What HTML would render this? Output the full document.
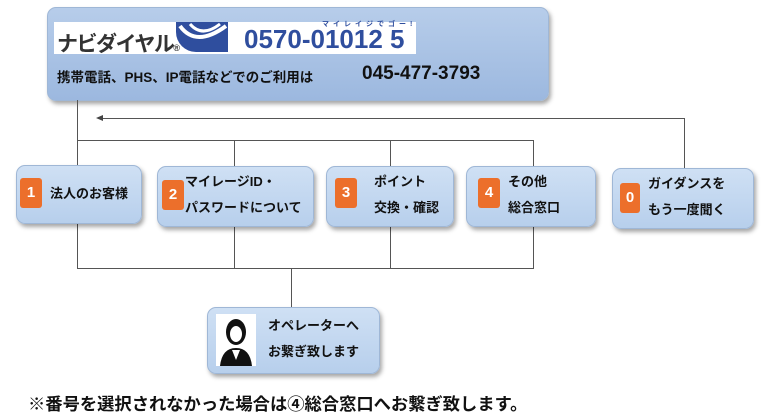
<!DOCTYPE html>
<html><head><meta charset="utf-8"><style>
body{margin:0;width:762px;height:418px;background:#fff;position:relative;overflow:hidden;font-family:"Liberation Sans","Noto Sans CJK JP",sans-serif;font-weight:bold;color:#111}
.b{position:absolute;background:linear-gradient(#cfe0f4,#b7cfec);border:1px solid #9fb7d6;border-radius:9px;box-shadow:2px 3px 4px rgba(0,0,0,.35)}
.n{position:absolute;width:22px;height:30px;background:#ec6f2b;color:#fff;font-size:15px;text-align:center;line-height:30px;border-radius:3px}
.t{position:absolute;font-size:13px;line-height:26px;white-space:nowrap}
.l{position:absolute;background:#555}
</style></head><body>
<div class="b" style="left:47px;top:7px;width:500px;height:92px;background:linear-gradient(#b7cdea,#9cb8df)"></div>
<div style="position:absolute;left:54px;top:22px;width:362px;height:32px;background:#fff"></div>
<div style="position:absolute;left:57px;top:28px;font-size:21px;color:#333;letter-spacing:-1.5px">ナビダイヤル<span style="font-size:9px">®</span></div>
<div style="position:absolute;left:176px;top:22px;width:52px;height:30px;background:#2f4e9e;border-radius:0 0 0 20px"></div>
<svg style="position:absolute;left:176px;top:22px" width="54" height="32"><path d="M4 4 Q20 26 50 4" stroke="#fff" stroke-width="4" fill="none"/><path d="M14 2 Q26 16 44 2" stroke="#fff" stroke-width="3" fill="none"/></svg>
<div style="position:absolute;left:244px;top:24px;font-size:26px;color:#2f4e9e">0570-01012 5</div>
<div style="position:absolute;left:322px;top:19px;font-size:7px;color:#2f4e9e;letter-spacing:4px">マイレイジでゴー!</div>
<div style="position:absolute;left:57px;top:66px;font-size:13.5px">携帯電話、PHS、IP電話などでのご利用は</div>
<div style="position:absolute;left:362px;top:63px;font-size:19px">045-477-3793</div>

<div class="l" style="left:77px;top:100px;width:1px;height:66px"></div>
<div class="l" style="left:100px;top:118px;width:585px;height:1px"></div>
<div style="position:absolute;left:96px;top:115px;width:0;height:0;border-right:7px solid #444;border-top:3px solid transparent;border-bottom:3px solid transparent"></div>
<div class="l" style="left:684px;top:118px;width:1px;height:50px"></div>
<div class="l" style="left:77px;top:140px;width:457px;height:1px"></div>
<div class="l" style="left:234px;top:140px;width:1px;height:26px"></div>
<div class="l" style="left:390px;top:140px;width:1px;height:26px"></div>
<div class="l" style="left:533px;top:140px;width:1px;height:26px"></div>
<div class="l" style="left:77px;top:222px;width:1px;height:46px"></div>
<div class="l" style="left:234px;top:225px;width:1px;height:43px"></div>
<div class="l" style="left:390px;top:225px;width:1px;height:43px"></div>
<div class="l" style="left:533px;top:225px;width:1px;height:43px"></div>
<div class="l" style="left:77px;top:268px;width:457px;height:1px"></div>
<div class="l" style="left:291px;top:268px;width:1px;height:40px"></div>

<div class="b" style="left:16px;top:165px;width:124px;height:57px"></div>
<div class="n" style="left:20px;top:178px">1</div><div class="t" style="left:50px;top:181px">法人のお客様</div>
<div class="b" style="left:157px;top:166px;width:155px;height:59px"></div>
<div class="n" style="left:162px;top:180px">2</div><div class="t" style="left:185px;top:169px">マイレージID・<br>パスワードについて</div>
<div class="b" style="left:326px;top:166px;width:126px;height:59px"></div>
<div class="n" style="left:335px;top:178px">3</div><div class="t" style="left:374px;top:169px">ポイント<br>交換・確認</div>
<div class="b" style="left:466px;top:166px;width:128px;height:59px"></div>
<div class="n" style="left:478px;top:178px">4</div><div class="t" style="left:508px;top:169px">その他<br>総合窓口</div>
<div class="b" style="left:612px;top:168px;width:140px;height:59px"></div>
<div class="n" style="left:620px;top:183px;width:20px">0</div><div class="t" style="left:648px;top:171px">ガイダンスを<br>もう一度聞く</div>

<div class="b" style="left:207px;top:307px;width:171px;height:65px"></div>
<div style="position:absolute;left:216px;top:314px;width:40px;height:52px;background:#fff"></div>
<svg style="position:absolute;left:216px;top:314px" width="40" height="52"><ellipse cx="20" cy="18" rx="10" ry="13" fill="#111"/><ellipse cx="20" cy="20" rx="6" ry="8" fill="#fff"/><path d="M4 52 Q6 34 20 34 Q34 34 36 52Z" fill="#111"/><path d="M16 36 L20 46 L24 36Z" fill="#fff"/></svg>
<div class="t" style="left:268px;top:313px">オペレーターへ<br>お繋ぎ致します</div>

<div style="position:absolute;left:28px;top:390px;font-size:17.3px;color:#111">※番号を選択されなかった場合は④総合窓口へお繋ぎ致します。</div>
</body></html>
